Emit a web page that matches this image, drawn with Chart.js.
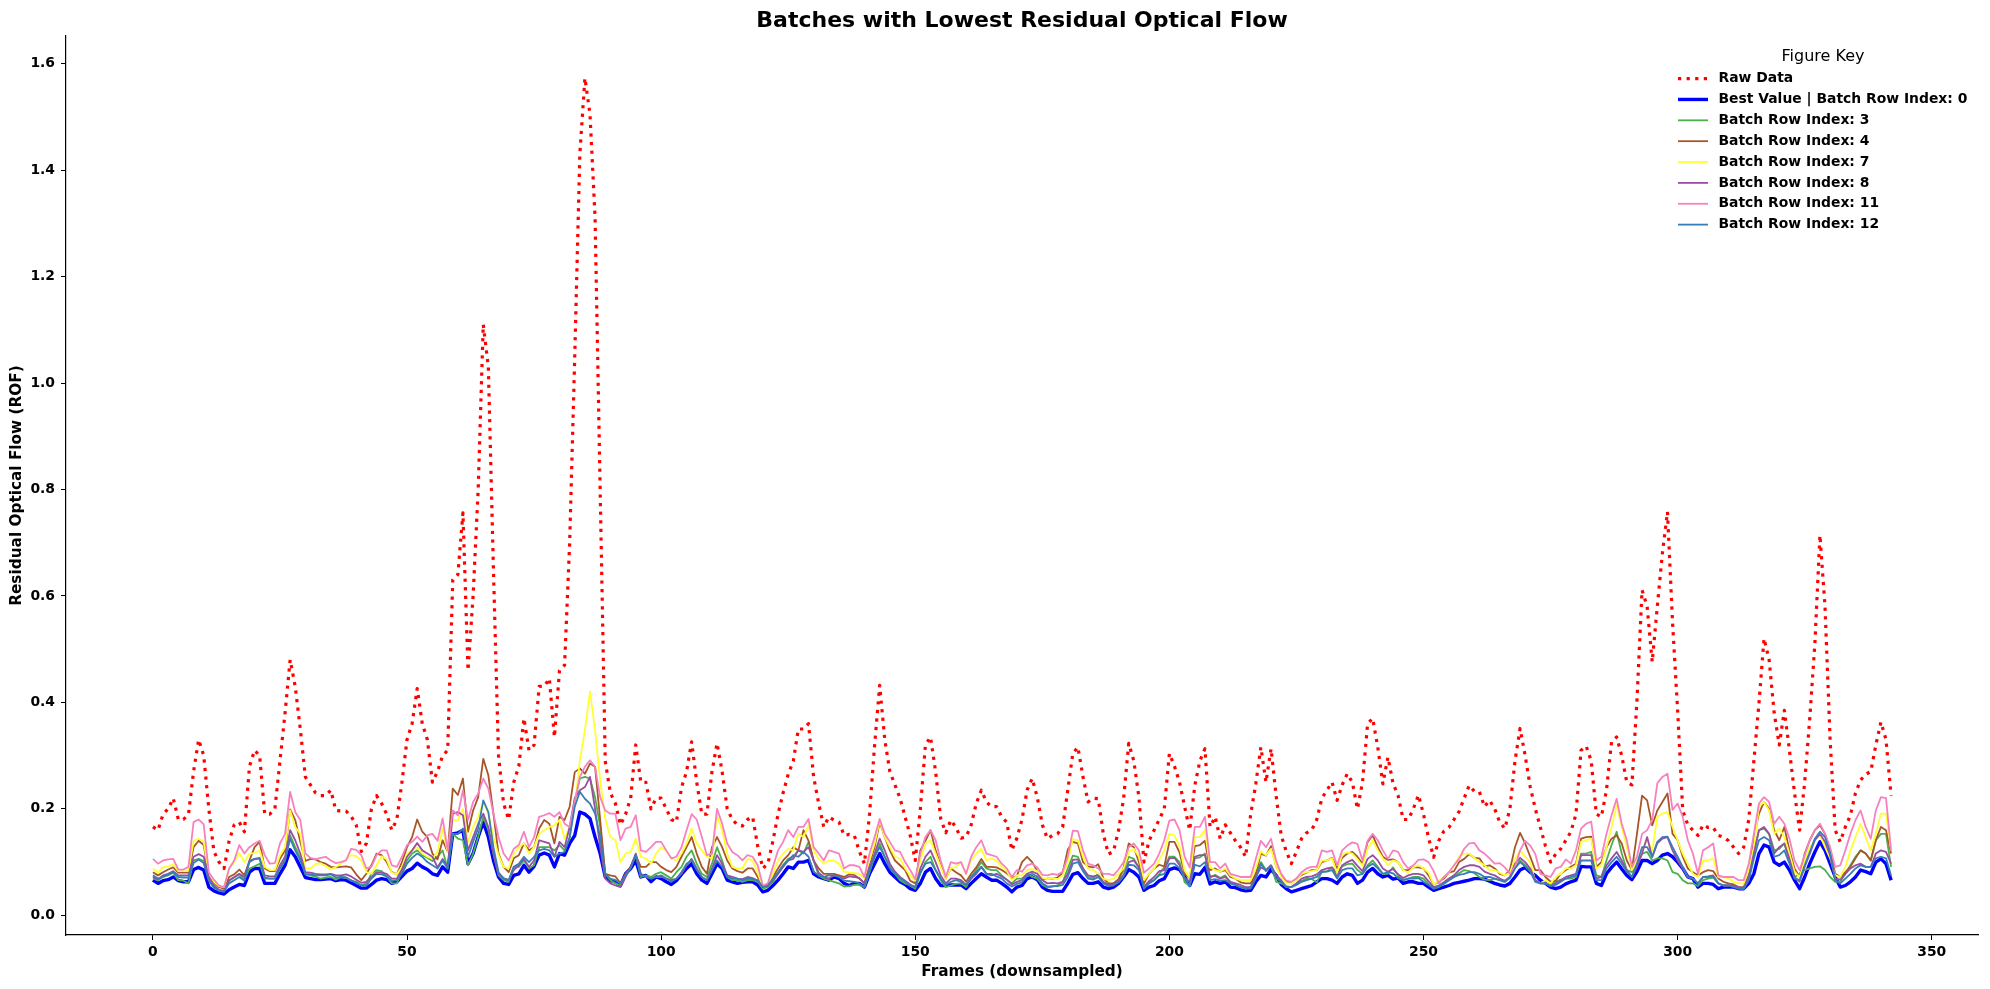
<!DOCTYPE html>
<html>
<head>
<meta charset="utf-8">
<title>Batches with Lowest Residual Optical Flow</title>
<script src="https://cdn.jsdelivr.net/npm/chart.js@4.4.1/dist/chart.umd.min.js"></script>
<style>
  html, body { margin: 0; padding: 0; background: #fff; }
  #rof { display: block; }
</style>
</head>
<body>
<canvas id="rof" width="1990" height="989"></canvas>
<script>
// 축 눈금 / 범례 이름 ////////////////////////////////////////
const xTicks = [0, 50, 100, 150, 200, 250, 300, 350];
const yTicks = [0.0, 0.2, 0.4, 0.6, 0.8, 1.0, 1.2, 1.4, 1.6];
const seriesNames = [
  'Raw Data',
  'Best Value | Batch Row Index: 0',
  'Batch Row Index: 3',
  'Batch Row Index: 4',
  'Batch Row Index: 7',
  'Batch Row Index: 8',
  'Batch Row Index: 11',
  'Batch Row Index: 12'
];

// 시리즈 값 (frame 0 ~ 342, 그림에서 읽은 값) ////////////////////
const rawData = [
  0.166, 0.16, 0.19, 0.20, 0.22, 0.18, 0.18, 0.19, 0.27, 0.33,
  0.30, 0.20, 0.12, 0.10, 0.088, 0.14, 0.17, 0.175, 0.157, 0.28,
  0.31, 0.30, 0.19, 0.19, 0.20, 0.29, 0.38, 0.48, 0.43, 0.35,
  0.26, 0.245, 0.23, 0.225, 0.225, 0.235, 0.197, 0.196, 0.196, 0.186,
  0.17, 0.12, 0.135, 0.20, 0.225, 0.21, 0.19, 0.16, 0.18, 0.25,
  0.33, 0.36, 0.426, 0.36, 0.33, 0.25, 0.27, 0.30, 0.31, 0.63,
  0.64, 0.756, 0.46, 0.60, 0.80, 1.11, 1.03, 0.65, 0.30, 0.21,
  0.18, 0.25, 0.28, 0.37, 0.31, 0.32, 0.43, 0.43, 0.445, 0.335,
  0.46, 0.47, 0.70, 1.05, 1.43, 1.573, 1.505, 1.31, 0.80, 0.29,
  0.23, 0.21, 0.17, 0.19, 0.22, 0.32, 0.25, 0.25, 0.20, 0.22,
  0.22, 0.20, 0.18, 0.175, 0.24, 0.27, 0.326, 0.25, 0.19, 0.19,
  0.27, 0.323, 0.27, 0.20, 0.18, 0.17, 0.168, 0.18, 0.185, 0.13,
  0.088, 0.097, 0.14, 0.19, 0.23, 0.265, 0.29, 0.35, 0.35, 0.36,
  0.26, 0.21, 0.166, 0.185, 0.179, 0.175, 0.15, 0.152, 0.15, 0.12,
  0.097, 0.19, 0.32, 0.432, 0.33, 0.27, 0.245, 0.22, 0.185, 0.15,
  0.103, 0.20, 0.32, 0.335, 0.27, 0.182, 0.155, 0.179, 0.165, 0.145,
  0.147, 0.17, 0.21, 0.235, 0.213, 0.204, 0.204, 0.185, 0.175, 0.122,
  0.145, 0.18, 0.235, 0.257, 0.222, 0.17, 0.144, 0.15, 0.153, 0.166,
  0.235, 0.304, 0.316, 0.26, 0.213, 0.22, 0.219, 0.153, 0.115, 0.12,
  0.16, 0.22, 0.323, 0.29, 0.222, 0.10, 0.14, 0.16, 0.18, 0.20,
  0.304, 0.28, 0.25, 0.204, 0.16, 0.244, 0.29, 0.313, 0.166, 0.185,
  0.144, 0.17, 0.155, 0.14, 0.128, 0.11, 0.19, 0.247, 0.316, 0.25,
  0.313, 0.225, 0.15, 0.12, 0.097, 0.12, 0.144, 0.155, 0.16, 0.18,
  0.22, 0.235, 0.25, 0.216, 0.245, 0.266, 0.25, 0.20, 0.25, 0.36,
  0.37, 0.316, 0.247, 0.297, 0.248, 0.225, 0.18, 0.18, 0.20, 0.226,
  0.19, 0.145, 0.109, 0.14, 0.158, 0.165, 0.18, 0.195, 0.22, 0.244,
  0.233, 0.232, 0.204, 0.216, 0.20, 0.175, 0.163, 0.20, 0.29, 0.351,
  0.30, 0.241, 0.20, 0.165, 0.13, 0.10, 0.115, 0.125, 0.141, 0.157,
  0.19, 0.31, 0.318, 0.29, 0.19, 0.185, 0.235, 0.326, 0.335, 0.30,
  0.25, 0.245, 0.404, 0.611, 0.58, 0.476, 0.58, 0.68, 0.758, 0.55,
  0.385, 0.197, 0.17, 0.16, 0.15, 0.17, 0.165, 0.165, 0.15, 0.147,
  0.14, 0.128, 0.116, 0.128, 0.18, 0.29, 0.398, 0.52, 0.48, 0.38,
  0.32, 0.385, 0.31, 0.23, 0.16, 0.25, 0.37, 0.51, 0.714, 0.58,
  0.33, 0.16, 0.138, 0.166, 0.188, 0.23, 0.254, 0.265, 0.27, 0.32,
  0.363, 0.33, 0.225
];

const best0 = [
  0.066, 0.06, 0.065, 0.067, 0.072, 0.065, 0.063, 0.063, 0.086, 0.09,
  0.085, 0.053, 0.046, 0.042, 0.04, 0.048, 0.053, 0.058, 0.056, 0.081,
  0.088, 0.088, 0.06, 0.06, 0.06, 0.078, 0.094, 0.123, 0.11, 0.091,
  0.071, 0.069, 0.067, 0.067, 0.068, 0.069, 0.065, 0.067, 0.066, 0.061,
  0.056, 0.051, 0.051, 0.058, 0.066, 0.069, 0.067, 0.06, 0.063, 0.073,
  0.083, 0.088, 0.098, 0.091, 0.086, 0.078, 0.075, 0.091, 0.081, 0.153,
  0.155, 0.16, 0.097, 0.116, 0.147, 0.175, 0.147, 0.103, 0.072, 0.06,
  0.058, 0.075, 0.078, 0.094, 0.081, 0.092, 0.113, 0.117, 0.113, 0.091,
  0.116, 0.113, 0.135, 0.15, 0.194, 0.19, 0.182, 0.147, 0.116, 0.072,
  0.065, 0.063, 0.056, 0.078, 0.088, 0.103, 0.072, 0.075, 0.063, 0.072,
  0.069, 0.063, 0.058, 0.065, 0.077, 0.088, 0.097, 0.078, 0.066, 0.06,
  0.078, 0.097, 0.088, 0.066, 0.063, 0.06, 0.062, 0.063, 0.063, 0.057,
  0.044, 0.047, 0.056, 0.066, 0.078, 0.091, 0.088, 0.10, 0.10, 0.103,
  0.078, 0.072, 0.069, 0.066, 0.072, 0.069, 0.06, 0.056, 0.06, 0.06,
  0.053, 0.078, 0.097, 0.116, 0.097, 0.081, 0.072, 0.063, 0.058, 0.05,
  0.047, 0.06, 0.081, 0.088, 0.069, 0.056, 0.056, 0.057, 0.057, 0.057,
  0.05, 0.06, 0.069, 0.078, 0.072, 0.066, 0.066, 0.06, 0.053, 0.044,
  0.053, 0.056, 0.069, 0.072, 0.067, 0.053, 0.047, 0.045, 0.045, 0.045,
  0.06, 0.077, 0.08, 0.069, 0.06, 0.06, 0.063, 0.053, 0.05, 0.053,
  0.06, 0.072, 0.086, 0.081, 0.072, 0.047, 0.053, 0.056, 0.065, 0.069,
  0.086, 0.089, 0.086, 0.072, 0.056, 0.078, 0.077, 0.09, 0.059, 0.063,
  0.06, 0.063, 0.053, 0.052, 0.048, 0.046, 0.047, 0.063, 0.075, 0.072,
  0.086, 0.075, 0.058, 0.05, 0.044, 0.047, 0.05, 0.053, 0.056, 0.063,
  0.069, 0.069, 0.066, 0.06, 0.072, 0.078, 0.075, 0.06, 0.066, 0.081,
  0.088, 0.078, 0.072, 0.075, 0.068, 0.07, 0.06, 0.063, 0.063, 0.06,
  0.06, 0.053, 0.047, 0.05, 0.053, 0.056, 0.06, 0.062, 0.064, 0.066,
  0.069, 0.069, 0.068, 0.064, 0.06, 0.057, 0.055, 0.06, 0.072, 0.085,
  0.09, 0.081, 0.075, 0.066, 0.06, 0.053, 0.05, 0.053, 0.059, 0.063,
  0.066, 0.092, 0.091, 0.091, 0.06, 0.056, 0.078, 0.09, 0.10, 0.087,
  0.075, 0.067, 0.082, 0.103, 0.103, 0.097, 0.103, 0.113, 0.116, 0.11,
  0.10, 0.088, 0.072, 0.069, 0.053, 0.06, 0.06, 0.058, 0.05, 0.053,
  0.053, 0.053, 0.05, 0.05, 0.06, 0.078, 0.116, 0.132, 0.128, 0.10,
  0.094, 0.10, 0.085, 0.066, 0.05, 0.072, 0.097, 0.119, 0.138, 0.122,
  0.097, 0.072, 0.053, 0.056, 0.063, 0.072, 0.085, 0.082, 0.078, 0.10,
  0.106, 0.097, 0.066
];

const batch3 = [
  0.069, 0.066, 0.072, 0.075, 0.08, 0.066, 0.065, 0.06, 0.103, 0.106,
  0.102, 0.069, 0.053, 0.047, 0.046, 0.065, 0.071, 0.077, 0.067, 0.088,
  0.092, 0.097, 0.069, 0.069, 0.069, 0.088, 0.103, 0.15, 0.128, 0.108,
  0.077, 0.075, 0.072, 0.069, 0.071, 0.072, 0.067, 0.072, 0.071, 0.065,
  0.063, 0.056, 0.06, 0.078, 0.085, 0.083, 0.073, 0.06, 0.06, 0.083,
  0.103, 0.116, 0.122, 0.113, 0.108, 0.102, 0.11, 0.122, 0.088, 0.153,
  0.144, 0.141, 0.094, 0.116, 0.147, 0.185, 0.16, 0.116, 0.075, 0.066,
  0.063, 0.091, 0.091, 0.103, 0.088, 0.094, 0.128, 0.128, 0.128, 0.122,
  0.132, 0.122, 0.144, 0.216, 0.257, 0.26, 0.257, 0.222, 0.166, 0.078,
  0.066, 0.06, 0.056, 0.075, 0.091, 0.113, 0.072, 0.075, 0.072, 0.078,
  0.081, 0.075, 0.069, 0.081, 0.091, 0.11, 0.122, 0.097, 0.078, 0.072,
  0.097, 0.128, 0.103, 0.072, 0.066, 0.066, 0.063, 0.066, 0.066, 0.063,
  0.05, 0.053, 0.063, 0.078, 0.094, 0.106, 0.11, 0.122, 0.116, 0.138,
  0.103, 0.075, 0.069, 0.066, 0.063, 0.06, 0.054, 0.055, 0.057, 0.057,
  0.053, 0.081, 0.11, 0.135, 0.11, 0.091, 0.078, 0.066, 0.06, 0.056,
  0.05, 0.078, 0.10, 0.11, 0.085, 0.066, 0.053, 0.056, 0.059, 0.06,
  0.053, 0.072, 0.085, 0.10, 0.088, 0.085, 0.085, 0.075, 0.067, 0.06,
  0.069, 0.069, 0.078, 0.072, 0.069, 0.057, 0.052, 0.054, 0.056, 0.062,
  0.088, 0.112, 0.11, 0.088, 0.072, 0.07, 0.078, 0.06, 0.057, 0.06,
  0.067, 0.085, 0.11, 0.106, 0.09, 0.053, 0.063, 0.066, 0.077, 0.09,
  0.11, 0.11, 0.10, 0.062, 0.055, 0.107, 0.109, 0.116, 0.07, 0.076,
  0.07, 0.075, 0.06, 0.057, 0.053, 0.05, 0.053, 0.078, 0.10, 0.085,
  0.093, 0.063, 0.06, 0.055, 0.053, 0.06, 0.065, 0.069, 0.068, 0.062,
  0.082, 0.083, 0.09, 0.08, 0.092, 0.096, 0.097, 0.085, 0.078, 0.094,
  0.103, 0.091, 0.078, 0.078, 0.09, 0.075, 0.066, 0.069, 0.072, 0.072,
  0.069, 0.059, 0.05, 0.053, 0.059, 0.066, 0.072, 0.079, 0.085, 0.083,
  0.079, 0.072, 0.067, 0.066, 0.069, 0.066, 0.063, 0.072, 0.09, 0.103,
  0.094, 0.085, 0.066, 0.06, 0.06, 0.058, 0.063, 0.067, 0.069, 0.069,
  0.072, 0.116, 0.116, 0.119, 0.075, 0.072, 0.103, 0.132, 0.157, 0.116,
  0.085, 0.081, 0.094, 0.116, 0.119, 0.103, 0.107, 0.107, 0.103, 0.081,
  0.078, 0.066, 0.06, 0.06, 0.055, 0.066, 0.069, 0.071, 0.06, 0.056,
  0.056, 0.056, 0.05, 0.05, 0.069, 0.116, 0.16, 0.163, 0.153, 0.122,
  0.125, 0.135, 0.103, 0.072, 0.078, 0.085, 0.088, 0.091, 0.092, 0.085,
  0.072, 0.063, 0.063, 0.078, 0.094, 0.11, 0.122, 0.116, 0.103, 0.141,
  0.153, 0.153, 0.091
];

const batch4 = [
  0.081, 0.075, 0.081, 0.086, 0.09, 0.08, 0.08, 0.08, 0.128, 0.14,
  0.132, 0.075, 0.06, 0.053, 0.05, 0.072, 0.077, 0.086, 0.075, 0.103,
  0.128, 0.138, 0.088, 0.083, 0.083, 0.106, 0.122, 0.199, 0.179, 0.138,
  0.102, 0.106, 0.105, 0.10, 0.097, 0.091, 0.09, 0.091, 0.092, 0.09,
  0.077, 0.066, 0.078, 0.094, 0.116, 0.113, 0.10, 0.081, 0.077, 0.10,
  0.128, 0.147, 0.18, 0.157, 0.147, 0.116, 0.105, 0.141, 0.119, 0.238,
  0.226, 0.257, 0.157, 0.197, 0.222, 0.294, 0.263, 0.191, 0.116, 0.091,
  0.081, 0.107, 0.113, 0.135, 0.122, 0.128, 0.163, 0.179, 0.172, 0.135,
  0.185, 0.179, 0.204, 0.269, 0.276, 0.266, 0.285, 0.279, 0.18, 0.078,
  0.075, 0.073, 0.06, 0.078, 0.091, 0.113, 0.091, 0.091, 0.10, 0.10,
  0.091, 0.085, 0.081, 0.091, 0.11, 0.128, 0.147, 0.116, 0.091, 0.078,
  0.128, 0.147, 0.128, 0.103, 0.088, 0.083, 0.08, 0.088, 0.088, 0.072,
  0.056, 0.058, 0.072, 0.088, 0.103, 0.113, 0.128, 0.122, 0.16, 0.14,
  0.103, 0.088, 0.078, 0.078, 0.078, 0.075, 0.072, 0.077, 0.076, 0.069,
  0.06, 0.097, 0.128, 0.175, 0.147, 0.122, 0.103, 0.094, 0.085, 0.065,
  0.06, 0.122, 0.14, 0.16, 0.122, 0.094, 0.069, 0.088, 0.081, 0.075,
  0.063, 0.078, 0.09, 0.106, 0.091, 0.091, 0.09, 0.085, 0.079, 0.07,
  0.074, 0.10, 0.11, 0.10, 0.083, 0.067, 0.069, 0.069, 0.071, 0.08,
  0.123, 0.138, 0.135, 0.10, 0.092, 0.09, 0.096, 0.07, 0.06, 0.06,
  0.068, 0.09, 0.135, 0.128, 0.10, 0.06, 0.078, 0.088, 0.095, 0.092,
  0.138, 0.138, 0.118, 0.078, 0.07, 0.13, 0.132, 0.14, 0.085, 0.088,
  0.082, 0.085, 0.072, 0.069, 0.062, 0.06, 0.06, 0.078, 0.116, 0.112,
  0.13, 0.092, 0.075, 0.064, 0.06, 0.069, 0.076, 0.08, 0.085, 0.085,
  0.10, 0.103, 0.108, 0.088, 0.108, 0.116, 0.119, 0.11, 0.097, 0.138,
  0.15, 0.128, 0.11, 0.104, 0.105, 0.10, 0.085, 0.085, 0.09, 0.09,
  0.088, 0.075, 0.058, 0.063, 0.069, 0.08, 0.083, 0.10, 0.106, 0.115,
  0.108, 0.107, 0.092, 0.094, 0.088, 0.078, 0.075, 0.085, 0.128, 0.155,
  0.135, 0.11, 0.085, 0.085, 0.072, 0.063, 0.065, 0.078, 0.085, 0.091,
  0.097, 0.144, 0.147, 0.148, 0.091, 0.10, 0.128, 0.144, 0.15, 0.135,
  0.103, 0.085, 0.153, 0.225, 0.216, 0.169, 0.197, 0.213, 0.229, 0.153,
  0.141, 0.11, 0.088, 0.081, 0.075, 0.081, 0.085, 0.083, 0.069, 0.063,
  0.06, 0.058, 0.053, 0.053, 0.078, 0.147, 0.191, 0.213, 0.20, 0.16,
  0.141, 0.166, 0.122, 0.088, 0.072, 0.116, 0.141, 0.16, 0.169, 0.153,
  0.122, 0.078, 0.072, 0.081, 0.091, 0.107, 0.122, 0.116, 0.103, 0.141,
  0.166, 0.16, 0.116
];

const batch7 = [
  0.088, 0.08, 0.09, 0.092, 0.096, 0.083, 0.083, 0.083, 0.14, 0.144,
  0.138, 0.078, 0.063, 0.055, 0.053, 0.088, 0.10, 0.117, 0.10, 0.116,
  0.117, 0.122, 0.091, 0.085, 0.085, 0.113, 0.128, 0.197, 0.166, 0.153,
  0.088, 0.088, 0.096, 0.098, 0.092, 0.086, 0.091, 0.097, 0.105, 0.113,
  0.111, 0.103, 0.081, 0.078, 0.094, 0.111, 0.105, 0.08, 0.077, 0.091,
  0.116, 0.122, 0.128, 0.116, 0.11, 0.106, 0.12, 0.163, 0.119, 0.179,
  0.179, 0.20, 0.138, 0.166, 0.185, 0.213, 0.191, 0.147, 0.113, 0.091,
  0.088, 0.116, 0.128, 0.135, 0.116, 0.128, 0.153, 0.16, 0.166, 0.169,
  0.179, 0.144, 0.166, 0.204, 0.291, 0.348, 0.42, 0.348, 0.254, 0.182,
  0.147, 0.141, 0.10, 0.116, 0.119, 0.144, 0.11, 0.107, 0.097, 0.116,
  0.128, 0.122, 0.107, 0.103, 0.116, 0.135, 0.163, 0.135, 0.122, 0.11,
  0.107, 0.188, 0.16, 0.116, 0.091, 0.088, 0.088, 0.106, 0.103, 0.08,
  0.053, 0.056, 0.078, 0.103, 0.116, 0.125, 0.122, 0.153, 0.147, 0.169,
  0.122, 0.106, 0.097, 0.103, 0.103, 0.097, 0.082, 0.08, 0.079, 0.078,
  0.069, 0.103, 0.135, 0.178, 0.147, 0.128, 0.11, 0.107, 0.088, 0.075,
  0.065, 0.103, 0.135, 0.141, 0.116, 0.091, 0.069, 0.088, 0.091, 0.10,
  0.078, 0.103, 0.116, 0.125, 0.103, 0.107, 0.102, 0.091, 0.083, 0.066,
  0.075, 0.075, 0.085, 0.087, 0.083, 0.07, 0.068, 0.07, 0.068, 0.075,
  0.10, 0.143, 0.141, 0.11, 0.087, 0.085, 0.078, 0.069, 0.066, 0.069,
  0.078, 0.088, 0.119, 0.125, 0.11, 0.066, 0.078, 0.088, 0.104, 0.122,
  0.153, 0.15, 0.13, 0.084, 0.07, 0.147, 0.147, 0.16, 0.09, 0.085,
  0.082, 0.088, 0.075, 0.069, 0.066, 0.066, 0.066, 0.088, 0.12, 0.113,
  0.125, 0.092, 0.072, 0.06, 0.06, 0.066, 0.078, 0.081, 0.083, 0.085,
  0.103, 0.103, 0.107, 0.08, 0.115, 0.118, 0.116, 0.105, 0.093, 0.125,
  0.14, 0.122, 0.107, 0.094, 0.103, 0.10, 0.085, 0.08, 0.09, 0.094,
  0.088, 0.08, 0.058, 0.065, 0.072, 0.08, 0.093, 0.11, 0.116, 0.116,
  0.108, 0.10, 0.094, 0.085, 0.085, 0.08, 0.075, 0.08, 0.106, 0.122,
  0.11, 0.10, 0.063, 0.06, 0.066, 0.06, 0.072, 0.078, 0.088, 0.088,
  0.094, 0.138, 0.141, 0.144, 0.088, 0.094, 0.128, 0.166, 0.207, 0.166,
  0.128, 0.085, 0.10, 0.122, 0.141, 0.122, 0.185, 0.191, 0.194, 0.166,
  0.141, 0.116, 0.097, 0.078, 0.072, 0.103, 0.103, 0.107, 0.072, 0.072,
  0.069, 0.063, 0.06, 0.06, 0.085, 0.128, 0.204, 0.213, 0.197, 0.153,
  0.163, 0.147, 0.116, 0.082, 0.072, 0.103, 0.128, 0.141, 0.15, 0.128,
  0.107, 0.075, 0.072, 0.091, 0.122, 0.147, 0.172, 0.147, 0.122, 0.153,
  0.191, 0.191, 0.122
];

const batch8 = [
  0.072, 0.067, 0.075, 0.078, 0.083, 0.075, 0.075, 0.075, 0.11, 0.115,
  0.11, 0.072, 0.056, 0.048, 0.046, 0.066, 0.072, 0.078, 0.072, 0.10,
  0.106, 0.108, 0.075, 0.073, 0.073, 0.094, 0.11, 0.16, 0.141, 0.116,
  0.081, 0.08, 0.078, 0.077, 0.077, 0.078, 0.075, 0.075, 0.077, 0.073,
  0.067, 0.061, 0.063, 0.072, 0.081, 0.08, 0.078, 0.069, 0.069, 0.086,
  0.11, 0.122, 0.136, 0.122, 0.116, 0.11, 0.09, 0.106, 0.091, 0.191,
  0.194, 0.188, 0.122, 0.147, 0.172, 0.191, 0.166, 0.116, 0.078, 0.07,
  0.066, 0.085, 0.094, 0.106, 0.091, 0.103, 0.141, 0.138, 0.135, 0.11,
  0.138, 0.128, 0.166, 0.22, 0.235, 0.241, 0.26, 0.20, 0.128, 0.069,
  0.06, 0.056, 0.053, 0.072, 0.091, 0.116, 0.078, 0.072, 0.069, 0.072,
  0.072, 0.069, 0.066, 0.069, 0.078, 0.094, 0.106, 0.088, 0.072, 0.066,
  0.088, 0.113, 0.097, 0.075, 0.072, 0.069, 0.068, 0.072, 0.07, 0.065,
  0.053, 0.055, 0.066, 0.078, 0.091, 0.103, 0.106, 0.122, 0.119, 0.128,
  0.103, 0.08, 0.072, 0.069, 0.075, 0.072, 0.069, 0.073, 0.072, 0.07,
  0.06, 0.091, 0.116, 0.144, 0.122, 0.097, 0.082, 0.072, 0.065, 0.058,
  0.053, 0.088, 0.11, 0.122, 0.10, 0.075, 0.06, 0.069, 0.069, 0.066,
  0.057, 0.069, 0.078, 0.091, 0.078, 0.075, 0.078, 0.073, 0.067, 0.058,
  0.063, 0.066, 0.078, 0.082, 0.078, 0.066, 0.06, 0.061, 0.06, 0.063,
  0.078, 0.104, 0.105, 0.088, 0.075, 0.073, 0.075, 0.063, 0.057, 0.058,
  0.065, 0.076, 0.10, 0.103, 0.09, 0.054, 0.064, 0.072, 0.083, 0.085,
  0.107, 0.108, 0.094, 0.07, 0.063, 0.11, 0.113, 0.113, 0.073, 0.074,
  0.069, 0.072, 0.063, 0.06, 0.057, 0.053, 0.053, 0.072, 0.09, 0.085,
  0.094, 0.075, 0.066, 0.053, 0.053, 0.06, 0.069, 0.072, 0.073, 0.077,
  0.085, 0.088, 0.09, 0.072, 0.094, 0.10, 0.104, 0.093, 0.083, 0.106,
  0.113, 0.103, 0.088, 0.082, 0.087, 0.077, 0.07, 0.075, 0.078, 0.078,
  0.075, 0.064, 0.053, 0.056, 0.062, 0.069, 0.075, 0.085, 0.091, 0.094,
  0.094, 0.091, 0.082, 0.078, 0.075, 0.069, 0.065, 0.072, 0.097, 0.108,
  0.10, 0.088, 0.066, 0.06, 0.06, 0.055, 0.06, 0.066, 0.072, 0.075,
  0.078, 0.113, 0.113, 0.113, 0.069, 0.072, 0.094, 0.107, 0.119, 0.103,
  0.085, 0.072, 0.091, 0.116, 0.147, 0.109, 0.135, 0.144, 0.147, 0.122,
  0.103, 0.088, 0.072, 0.069, 0.06, 0.072, 0.073, 0.075, 0.06, 0.056,
  0.056, 0.056, 0.053, 0.05, 0.072, 0.116, 0.16, 0.166, 0.153, 0.116,
  0.128, 0.135, 0.106, 0.072, 0.063, 0.091, 0.116, 0.141, 0.153, 0.138,
  0.113, 0.069, 0.067, 0.078, 0.088, 0.094, 0.097, 0.091, 0.091, 0.116,
  0.122, 0.119, 0.097
];

const batch11 = [
  0.106, 0.097, 0.103, 0.105, 0.106, 0.086, 0.086, 0.091, 0.175, 0.18,
  0.171, 0.081, 0.067, 0.056, 0.053, 0.088, 0.103, 0.132, 0.116, 0.128,
  0.135, 0.14, 0.113, 0.097, 0.098, 0.135, 0.153, 0.232, 0.194, 0.179,
  0.116, 0.108, 0.105, 0.108, 0.11, 0.103, 0.098, 0.10, 0.103, 0.125,
  0.123, 0.113, 0.088, 0.091, 0.113, 0.122, 0.122, 0.094, 0.091, 0.11,
  0.132, 0.138, 0.148, 0.138, 0.15, 0.153, 0.14, 0.182, 0.122, 0.197,
  0.188, 0.235, 0.179, 0.213, 0.229, 0.257, 0.238, 0.191, 0.147, 0.116,
  0.103, 0.125, 0.132, 0.157, 0.128, 0.147, 0.185, 0.188, 0.192, 0.185,
  0.194, 0.172, 0.166, 0.213, 0.26, 0.279, 0.291, 0.279, 0.222, 0.197,
  0.191, 0.191, 0.141, 0.163, 0.166, 0.188, 0.122, 0.119, 0.128, 0.138,
  0.138, 0.122, 0.107, 0.11, 0.128, 0.16, 0.19, 0.18, 0.147, 0.113,
  0.116, 0.20, 0.172, 0.135, 0.119, 0.113, 0.103, 0.113, 0.11, 0.094,
  0.056, 0.06, 0.091, 0.122, 0.138, 0.16, 0.147, 0.166, 0.166, 0.181,
  0.128, 0.116, 0.103, 0.122, 0.119, 0.116, 0.088, 0.094, 0.094, 0.091,
  0.072, 0.116, 0.147, 0.181, 0.153, 0.138, 0.122, 0.119, 0.10, 0.085,
  0.068, 0.116, 0.147, 0.16, 0.141, 0.103, 0.072, 0.10, 0.097, 0.10,
  0.078, 0.11, 0.128, 0.141, 0.116, 0.113, 0.11, 0.097, 0.088, 0.072,
  0.085, 0.082, 0.094, 0.097, 0.09, 0.076, 0.075, 0.078, 0.076, 0.082,
  0.11, 0.159, 0.158, 0.122, 0.097, 0.094, 0.088, 0.078, 0.078, 0.075,
  0.086, 0.10, 0.128, 0.135, 0.122, 0.08, 0.088, 0.097, 0.116, 0.141,
  0.178, 0.18, 0.16, 0.11, 0.09, 0.166, 0.166, 0.185, 0.10, 0.10,
  0.088, 0.097, 0.078, 0.075, 0.072, 0.072, 0.072, 0.106, 0.14, 0.128,
  0.144, 0.103, 0.078, 0.065, 0.063, 0.069, 0.081, 0.088, 0.091, 0.091,
  0.122, 0.119, 0.122, 0.094, 0.122, 0.131, 0.137, 0.134, 0.103, 0.14,
  0.153, 0.141, 0.122, 0.106, 0.122, 0.119, 0.10, 0.088, 0.094, 0.104,
  0.105, 0.10, 0.083, 0.06, 0.072, 0.081, 0.094, 0.106, 0.125, 0.135,
  0.136, 0.122, 0.116, 0.107, 0.097, 0.098, 0.09, 0.078, 0.091, 0.122,
  0.14, 0.131, 0.115, 0.078, 0.075, 0.072, 0.088, 0.091, 0.105, 0.097,
  0.122, 0.163, 0.172, 0.176, 0.103, 0.11, 0.153, 0.188, 0.219, 0.172,
  0.141, 0.091, 0.11, 0.153, 0.16, 0.179, 0.248, 0.26, 0.266, 0.198,
  0.21, 0.185, 0.141, 0.116, 0.078, 0.122, 0.128, 0.135, 0.075, 0.072,
  0.072, 0.072, 0.066, 0.066, 0.097, 0.153, 0.21, 0.222, 0.213, 0.172,
  0.185, 0.172, 0.144, 0.103, 0.085, 0.113, 0.141, 0.16, 0.172, 0.153,
  0.128, 0.091, 0.094, 0.122, 0.153, 0.179, 0.197, 0.166, 0.144, 0.197,
  0.222, 0.22, 0.122
];

const batch12 = [
  0.075, 0.069, 0.073, 0.077, 0.081, 0.072, 0.071, 0.071, 0.098, 0.105,
  0.098, 0.065, 0.052, 0.046, 0.044, 0.06, 0.066, 0.072, 0.065, 0.102,
  0.106, 0.106, 0.071, 0.069, 0.069, 0.088, 0.103, 0.144, 0.122, 0.103,
  0.078, 0.077, 0.075, 0.075, 0.075, 0.077, 0.071, 0.072, 0.071, 0.066,
  0.061, 0.056, 0.056, 0.069, 0.078, 0.077, 0.073, 0.065, 0.066, 0.078,
  0.097, 0.108, 0.116, 0.11, 0.10, 0.094, 0.088, 0.103, 0.088, 0.153,
  0.153, 0.163, 0.11, 0.138, 0.163, 0.216, 0.194, 0.128, 0.081, 0.069,
  0.066, 0.091, 0.097, 0.11, 0.10, 0.11, 0.122, 0.125, 0.122, 0.11,
  0.116, 0.119, 0.147, 0.204, 0.232, 0.219, 0.21, 0.191, 0.147, 0.078,
  0.069, 0.066, 0.06, 0.075, 0.088, 0.113, 0.075, 0.072, 0.069, 0.072,
  0.075, 0.069, 0.063, 0.069, 0.081, 0.097, 0.103, 0.085, 0.072, 0.066,
  0.085, 0.103, 0.091, 0.072, 0.069, 0.069, 0.066, 0.069, 0.068, 0.066,
  0.053, 0.056, 0.069, 0.081, 0.094, 0.103, 0.113, 0.11, 0.119, 0.11,
  0.082, 0.075, 0.072, 0.075, 0.075, 0.072, 0.065, 0.064, 0.063, 0.06,
  0.053, 0.085, 0.11, 0.128, 0.11, 0.088, 0.078, 0.07, 0.063, 0.056,
  0.053, 0.081, 0.097, 0.10, 0.085, 0.069, 0.057, 0.063, 0.066, 0.063,
  0.057, 0.072, 0.081, 0.091, 0.078, 0.078, 0.073, 0.069, 0.06, 0.054,
  0.059, 0.062, 0.074, 0.078, 0.073, 0.06, 0.054, 0.055, 0.055, 0.057,
  0.072, 0.097, 0.10, 0.083, 0.069, 0.067, 0.072, 0.06, 0.055, 0.056,
  0.062, 0.073, 0.095, 0.094, 0.085, 0.05, 0.06, 0.066, 0.075, 0.078,
  0.097, 0.097, 0.088, 0.07, 0.055, 0.095, 0.092, 0.10, 0.066, 0.068,
  0.065, 0.066, 0.06, 0.057, 0.053, 0.05, 0.05, 0.069, 0.097, 0.083,
  0.092, 0.07, 0.063, 0.053, 0.053, 0.057, 0.063, 0.066, 0.069, 0.072,
  0.081, 0.082, 0.085, 0.069, 0.085, 0.088, 0.088, 0.075, 0.078, 0.091,
  0.097, 0.088, 0.078, 0.081, 0.079, 0.07, 0.066, 0.069, 0.069, 0.07,
  0.063, 0.057, 0.05, 0.055, 0.06, 0.066, 0.072, 0.076, 0.078, 0.081,
  0.081, 0.078, 0.072, 0.072, 0.069, 0.066, 0.063, 0.07, 0.088, 0.10,
  0.092, 0.082, 0.063, 0.06, 0.06, 0.055, 0.057, 0.063, 0.069, 0.072,
  0.075, 0.103, 0.103, 0.103, 0.066, 0.066, 0.088, 0.10, 0.11, 0.097,
  0.082, 0.072, 0.097, 0.128, 0.128, 0.11, 0.138, 0.147, 0.148, 0.128,
  0.11, 0.091, 0.072, 0.069, 0.06, 0.072, 0.072, 0.073, 0.06, 0.056,
  0.056, 0.053, 0.05, 0.05, 0.066, 0.106, 0.141, 0.147, 0.141, 0.11,
  0.113, 0.122, 0.097, 0.069, 0.066, 0.094, 0.119, 0.144, 0.157, 0.147,
  0.116, 0.066, 0.06, 0.069, 0.078, 0.088, 0.094, 0.091, 0.091, 0.107,
  0.11, 0.107, 0.075
];

// 스타일 (Set1 계열 색) ///////////////////////////////////////
const seriesValues = [rawData, best0, batch3, batch4, batch7, batch8, batch11, batch12];
const lineColors = ['#ff0000', '#0000ff', '#4daf4a', '#a65628', '#ffff33', '#984ea3', '#f781bf', '#377eb8'];
const lineWidths = [3.2, 3.4, 1.8, 1.8, 1.8, 1.8, 1.8, 1.8];
const lineDashes = [[3.2, 5.4], [], [], [], [], [], [], []];

const FONT = '"DejaVu Sans", "Liberation Sans", sans-serif';

const datasets = seriesValues.map((vals, i) => ({
  label: seriesNames[i],
  data: vals.map((v, frame) => ({ x: frame, y: v })),
  borderColor: lineColors[i],
  backgroundColor: lineColors[i],
  borderWidth: lineWidths[i],
  borderDash: lineDashes[i],
  borderCapStyle: 'butt',
  borderJoinStyle: 'round',
  pointRadius: 0,
  tension: 0,
  fill: false,
  order: seriesValues.length - i // 나중 시리즈가 위에 그려지도록
}));

// 제목, 축 제목, 범례(Figure Key) 그리기 ////////////////////////
const figureText = {
  id: 'figureText',
  beforeDraw(chart) {
    const c = chart.ctx;
    c.save();
    c.fillStyle = '#fff';
    c.fillRect(0, 0, chart.width, chart.height);
    c.restore();
  },
  afterDraw(chart) {
    const c = chart.ctx;
    const area = chart.chartArea;
    const midX = (area.left + area.right) / 2;
    const midY = (area.top + area.bottom) / 2;

    c.save();
    c.fillStyle = '#000';
    c.textAlign = 'center';
    c.textBaseline = 'middle';

    c.font = 'bold 22px ' + FONT;
    c.fillText('Batches with Lowest Residual Optical Flow', midX, 21.5);

    c.font = 'bold 15.3px ' + FONT;
    c.fillText('Frames (downsampled)', midX, 972);

    c.save();
    c.translate(17, midY);
    c.rotate(-Math.PI / 2);
    c.fillText('Residual Optical Flow (ROF)', 0, 0);
    c.restore();

    // 범례
    c.font = '16px ' + FONT;
    c.fillText('Figure Key', 1823, 57);

    c.textAlign = 'left';
    c.font = 'bold 13.9px ' + FONT;
    seriesNames.forEach((name, i) => {
      const y = 78.6 + i * 20.86;
      c.save();
      c.strokeStyle = lineColors[i];
      c.lineWidth = lineWidths[i];
      c.setLineDash(lineDashes[i]);
      c.lineCap = 'butt';
      c.beginPath();
      c.moveTo(1678, y);
      c.lineTo(1708, y);
      c.stroke();
      c.restore();
      c.fillText(name, 1718.5, y);
    });
    c.restore();
  }
};

const tickFont = { family: FONT, size: 13.9, weight: 'bold' };

new Chart(document.getElementById('rof'), {
  type: 'line',
  data: { datasets },
  options: {
    responsive: false,
    animation: false,
    devicePixelRatio: 1,
    layout: { padding: { left: 0, right: 12, top: 36, bottom: 0 } },
    plugins: {
      legend: { display: false },
      title: { display: false },
      tooltip: { enabled: false }
    },
    scales: {
      x: {
        type: 'linear',
        min: -17.1,
        max: 359.1,
        afterBuildTicks: (axis) => { axis.ticks = xTicks.map(v => ({ value: v })); },
        afterFit: (axis) => { axis.height = 54; },
        grid: { drawOnChartArea: false, drawTicks: true, tickLength: 5, color: '#000', lineWidth: 1 },
        border: { display: true, color: '#000', width: 1.2 },
        ticks: {
          font: tickFont, color: '#000', padding: 4,
          autoSkip: false, maxRotation: 0, minRotation: 0,
          callback: (v) => String(v)
        }
      },
      y: {
        type: 'linear',
        min: -0.037,
        max: 1.652,
        afterBuildTicks: (axis) => { axis.ticks = yTicks.map(v => ({ value: v })); },
        afterFit: (axis) => { axis.width = 66; },
        grid: { drawOnChartArea: false, drawTicks: true, tickLength: 5, color: '#000', lineWidth: 1 },
        border: { display: true, color: '#000', width: 1.2 },
        ticks: {
          font: tickFont, color: '#000', padding: 6,
          autoSkip: false,
          callback: (v) => Number(v).toFixed(1)
        }
      }
    }
  },
  plugins: [figureText]
});
</script>
</body>
</html>
